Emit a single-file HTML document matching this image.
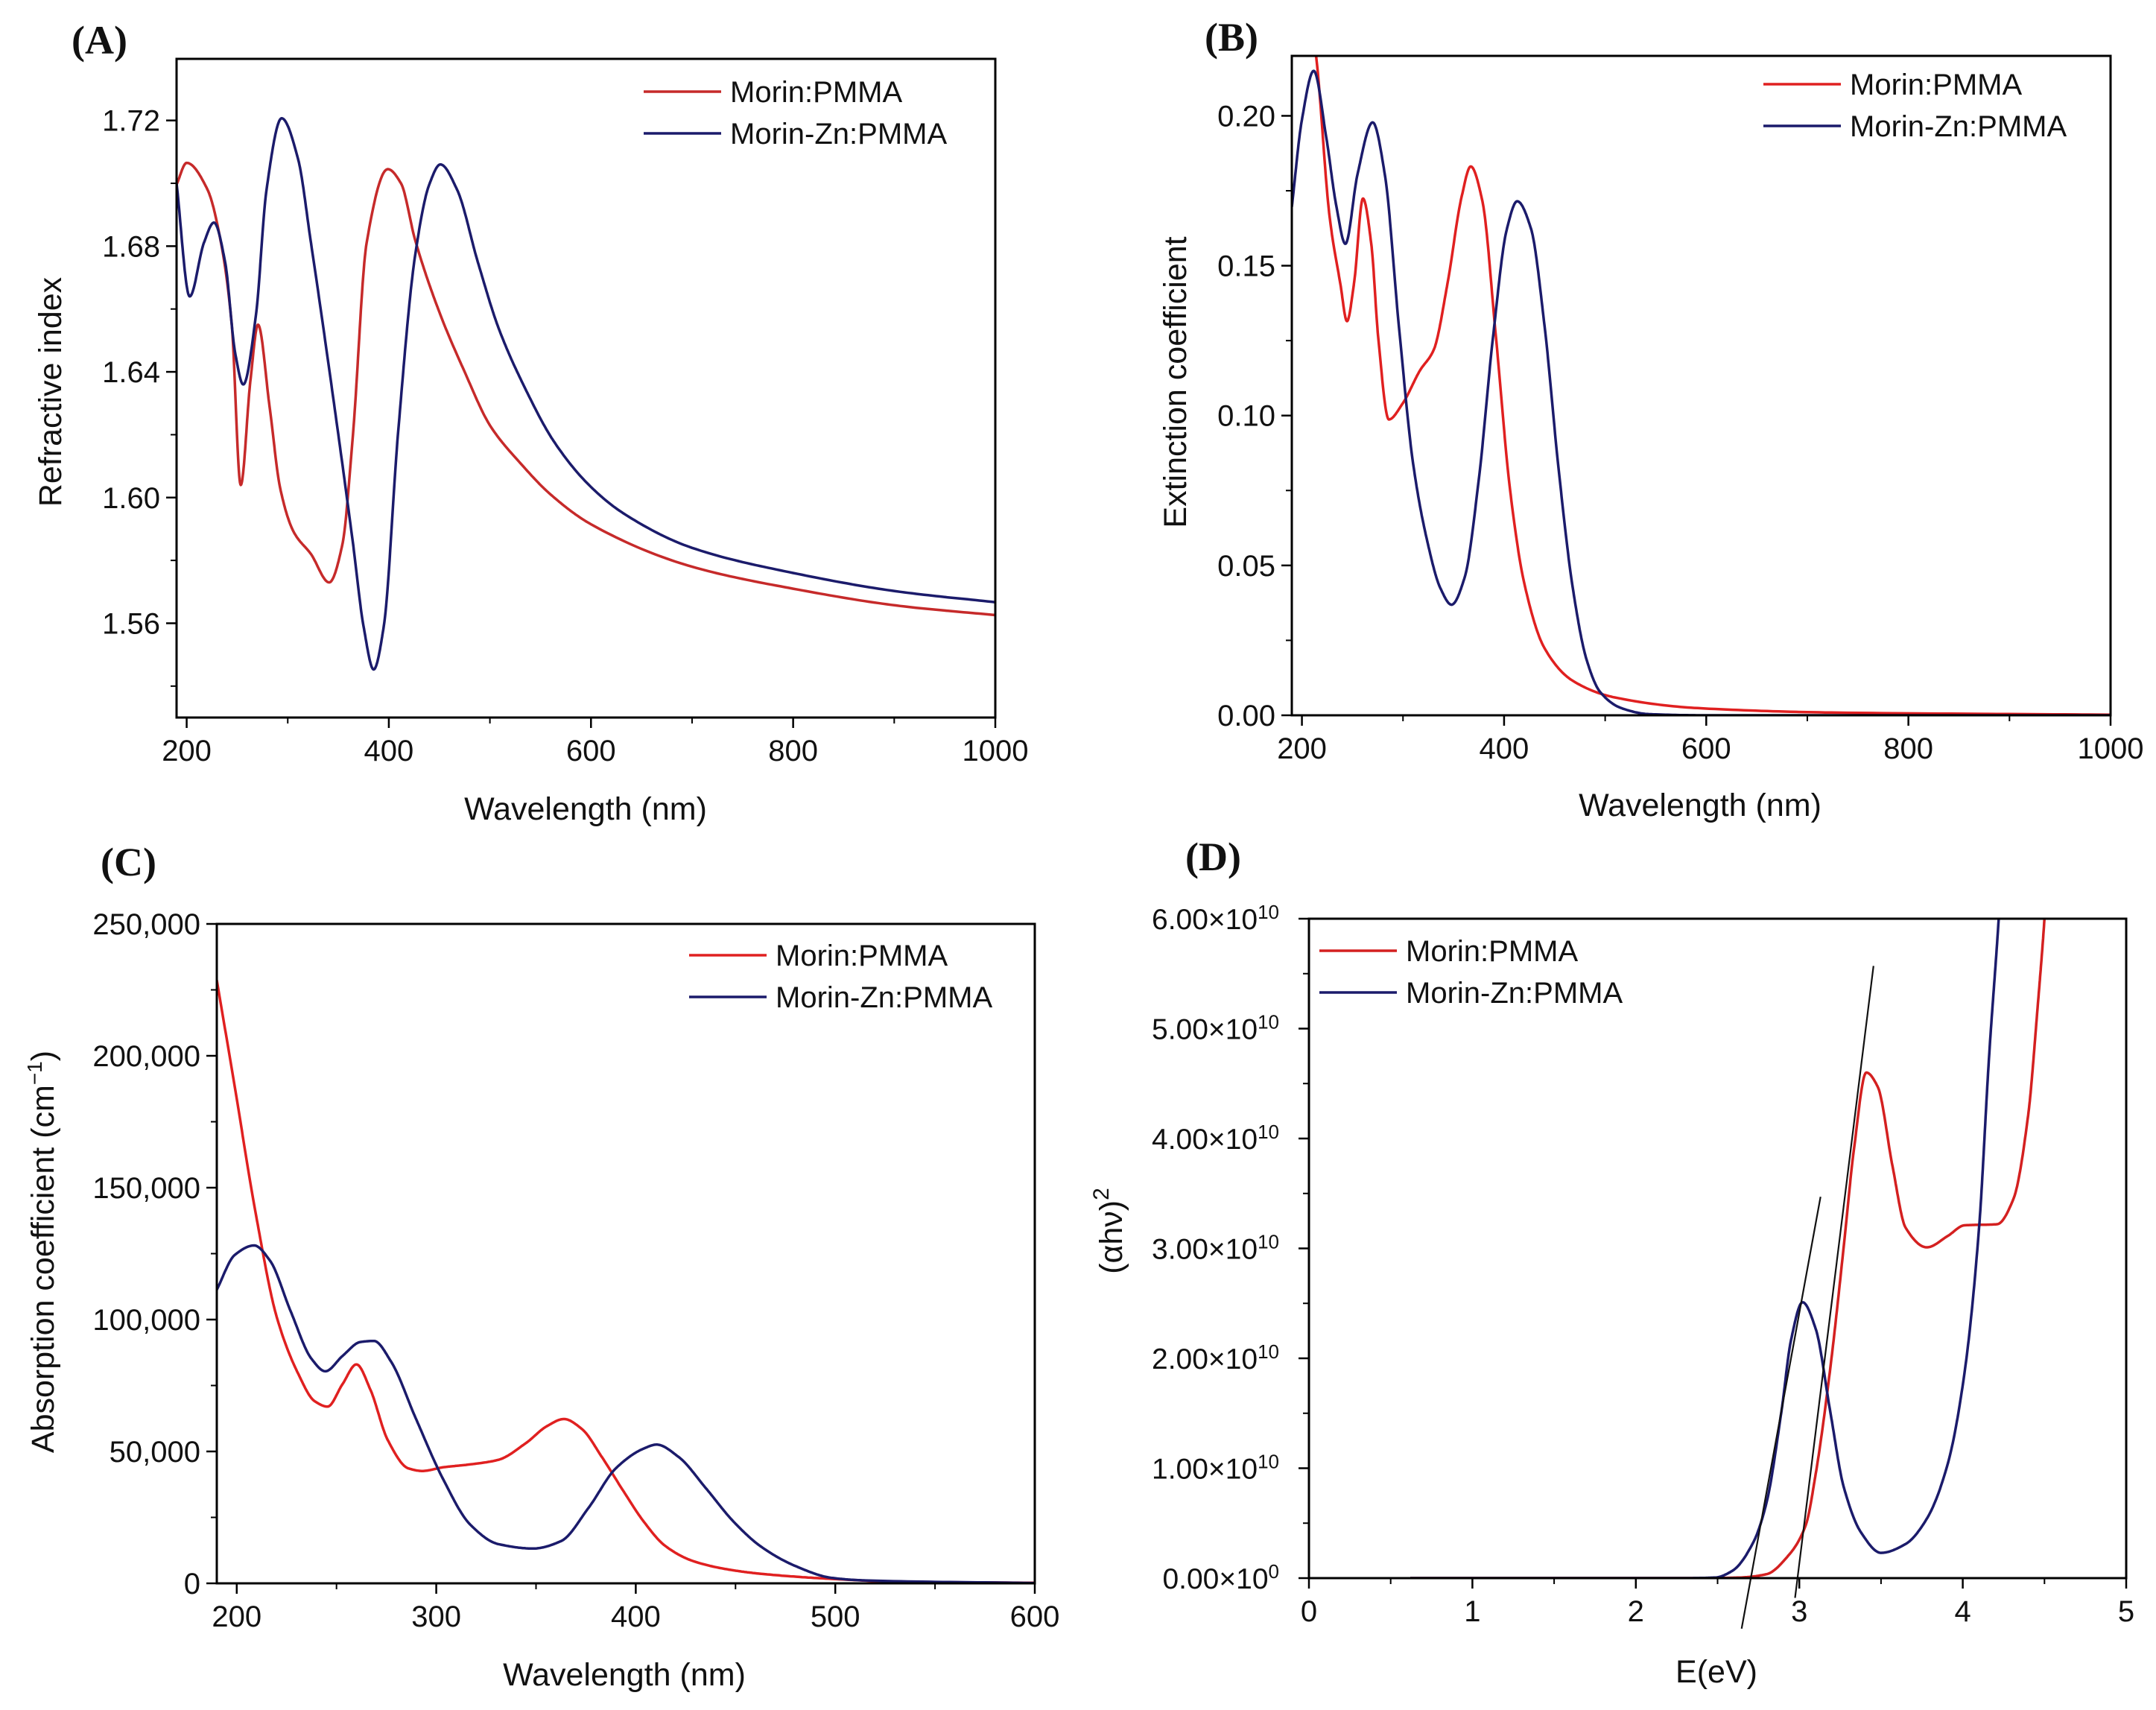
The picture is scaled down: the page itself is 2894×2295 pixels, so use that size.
<!DOCTYPE html>
<html><head><meta charset="utf-8"><style>
html,body{margin:0;padding:0;background:#fff;}
svg{display:block;font-family:"Liberation Sans",Arial,sans-serif;}
</style></head><body>
<svg id="fig" width="2894" height="2295" viewBox="0 0 2894 2295" xmlns="http://www.w3.org/2000/svg"></svg>
<script>
// ---------- Panel A: refractive index ----------
const aRedX=[190,200,220.6,234,244.6,253.5,263,270.6,282,292.5,306,323,341,354,364.5,378,399,412,426,450,475,500,530,560,600,700,800,906,1000];
const aRedY=[1.6996,1.7065,1.698,1.681,1.655,1.604,1.637,1.655,1.629,1.603,1.589,1.582,1.573,1.585,1.620,1.681,1.7045,1.700,1.682,1.659,1.640,1.623,1.611,1.601,1.5915,1.578,1.571,1.5655,1.5626];
const aBlueX=[190,203,217,227,238,248,256,268.5,279,294,310,323,344,364.5,375,385,395,409,426,440,451,467.5,488,508.5,536,563,598,632,700,800,906,1000];
const aBlueY=[1.700,1.664,1.681,1.6875,1.675,1.646,1.636,1.658,1.698,1.7207,1.708,1.681,1.634,1.5855,1.559,1.5453,1.559,1.620,1.677,1.6996,1.706,1.698,1.675,1.654,1.634,1.618,1.604,1.595,1.584,1.576,1.570,1.5667];
const aXTicks=[200,400,600,800,1000];
const aYTicks=[1.56,1.60,1.64,1.68,1.72];
// ---------- Panel B: extinction coefficient ----------
const bRedX=[205,214,227.5,238,244.6,251.5,260.4,268.7,275.5,286,299.6,316.7,330.5,344,358,367,378.5,392,406,420,440,468,509,591.5,729,1000];
const bRedY=[0.24,0.22,0.166,0.144,0.1315,0.144,0.1724,0.157,0.126,0.0987,0.104,0.115,0.122,0.144,0.173,0.1831,0.1716,0.126,0.075,0.044,0.0224,0.0115,0.006,0.0024,0.0009,0.0002];
const bBlueX=[190,200,211.7,224,234,243,255,270,282,296,310,323.6,337,348,361,375,389,402.6,413,426.6,440,454,468,481.5,495,516,543,600,1000];
const bBlueY=[0.1696,0.1987,0.215,0.193,0.170,0.1573,0.1805,0.1978,0.1805,0.1296,0.084,0.0587,0.0424,0.0369,0.046,0.0787,0.126,0.162,0.1715,0.1624,0.130,0.082,0.0424,0.0187,0.0078,0.0024,0.0004,0,0];
const bXTicks=[200,400,600,800,1000];
const bYTicks=[0,0.05,0.10,0.15,0.20];
const bYLabels=["0.00","0.05","0.10","0.15","0.20"];
// ---------- Panel C: absorption coefficient ----------
const cRedX=[190,199,209.7,220,230.6,239,245.5,253,260,267,275.7,286,293,303.5,317,331,345,355.5,364,373,383,393.7,404,414.6,428.5,446,463,498,532.6,600];
const cRedY=[228700,188300,139400,101100,79800,69100,67000,75500,83000,73400,54300,43600,42600,44000,45100,46800,53200,59600,62300,58500,47900,35100,23400,14300,8500,5300,3600,1700,600,200];
const cBlueX=[190,199,208.7,216.7,227,237.5,244.4,253,262,268.75,277.4,289.6,303.5,317,331,348.6,362.5,376.4,390,404,410.4,421.5,435,449,463,480.5,498,515,600];
const cBlueY=[111300,124500,128100,122300,103200,85100,80400,86200,91500,91900,84000,62800,39400,22300,14900,13200,16000,28700,43600,51100,52600,47900,36200,23400,13800,6400,2100,1100,100];
const cXTicks=[200,300,400,500,600];
const cYTicks=[0,50000,100000,150000,200000,250000];
const cYLabels=["0","50,000","100,000","150,000","200,000","250,000"];
// ---------- Panel D: Tauc plot (units of 1e10) ----------
const dRedX=[0.62,1.5,2.4,2.63,2.80,2.93,3.04,3.10,3.19,3.27,3.335,3.41,3.48,3.57,3.65,3.78,3.91,4.01,4.21,4.31,4.40,4.46,4.50,4.52];
const dRedY=[0,0,0,0.005,0.036,0.2,0.485,0.945,1.915,2.99,3.91,4.60,4.47,3.75,3.19,3.01,3.115,3.21,3.22,3.45,4.21,5.23,6.0,6.5];
const dBlueX=[0.62,1.5,2.3,2.485,2.59,2.72,2.80,2.89,2.95,3.02,3.10,3.19,3.27,3.38,3.50,3.65,3.78,3.91,4.01,4.10,4.16,4.22,4.24];
const dBlueY=[0,0,0,0.005,0.066,0.33,0.69,1.51,2.17,2.51,2.27,1.51,0.84,0.41,0.23,0.31,0.54,1.05,1.86,3.19,4.72,6.0,6.5];
const dFit1X=[2.647,3.13], dFit1Y=[-0.46,3.47];
const dFit2X=[2.974,3.454], dFit2Y=[-0.18,5.57];
const dXTicks=[0,1,2,3,4,5];
const dYTicks=[0,1,2,3,4,5,6];
const dYMant=["0.00","1.00","2.00","3.00","4.00","5.00","6.00"];
const dYExp=["0","10","10","10","10","10","10"];

const NS="http://www.w3.org/2000/svg";
const svg=document.getElementById('fig');
function mk(tag,attrs,parent){const e=document.createElementNS(NS,tag);for(const k in attrs)e.setAttribute(k,attrs[k]);(parent||svg).appendChild(e);return e;}
// monotone cubic (Fritsch-Carlson) interpolation sampled densely
function monotone(xs,ys){
  const n=xs.length,d=[],m=new Array(n);
  for(let i=0;i<n-1;i++)d.push((ys[i+1]-ys[i])/(xs[i+1]-xs[i]));
  m[0]=d[0];m[n-1]=d[n-2];
  for(let i=1;i<n-1;i++){
    if(d[i-1]*d[i]<=0)m[i]=0;
    else{const h0=xs[i]-xs[i-1],h1=xs[i+1]-xs[i];const w1=2*h1+h0,w2=h1+2*h0;m[i]=(w1+w2)/(w1/d[i-1]+w2/d[i]);}
  }
  const out=[];
  for(let i=0;i<n-1;i++){
    const h=xs[i+1]-xs[i],N=24;
    for(let k=0;k<N;k++){
      const t=k/N,t2=t*t,t3=t2*t;
      const y=(2*t3-3*t2+1)*ys[i]+(t3-2*t2+t)*h*m[i]+(-2*t3+3*t2)*ys[i+1]+(t3-t2)*h*m[i+1];
      out.push([xs[i]+t*h,y]);
    }
  }
  out.push([xs[n-1],ys[n-1]]);
  return out;
}
function panel(cfg){
  const g=mk('g',{});
  
  
  const {L,R,T,B,x0,x1,y0,y1}=cfg;
  const sx=v=>L+(v-x0)/(x1-x0)*(R-L);
  const sy=v=>B-(v-y0)/(y1-y0)*(B-T);
  const clipId=cfg.id+'-clip';
  const cp=mk('clipPath',{id:clipId},g);mk('rect',{x:L,y:T,width:R-L,height:B-T},cp);
  cfg.series.forEach(s=>{
    const pts=monotone(s.x,s.y).map(p=>[sx(p[0]),sy(p[1])]);
    const d="M"+pts.map(p=>p[0].toFixed(1)+","+p[1].toFixed(1)).join(" L");
    const p=mk('path',{d:d,fill:'none',stroke:s.color,'stroke-width':3.5,'stroke-linejoin':'round','clip-path':'url(#'+clipId+')'},g);
    
    
  });
  (cfg.fits||[]).forEach((f,i)=>{
    const l=mk('line',{x1:sx(f.x[0]),y1:sy(f.y[0]),x2:sx(f.x[1]),y2:sy(f.y[1]),stroke:'#111','stroke-width':2.2},g);
    
    
  });
  const fr=mk('rect',{x:L,y:T,width:R-L,height:B-T,fill:'none',stroke:'#000','stroke-width':3},g);
  
  
  cfg.xt.forEach((v,i)=>{
    const X=sx(v);
    mk('line',{x1:X,y1:B,x2:X,y2:B+14,stroke:'#000','stroke-width':2.5},g);
    const t=mk('text',{x:X,y:B+58,'font-size':40,'text-anchor':'middle',fill:'#111'},g);
    t.textContent=String(v);
    
    
  });
  cfg.xm.forEach(v=>{const X=sx(v);mk('line',{x1:X,y1:B,x2:X,y2:B+8,stroke:'#000','stroke-width':2},g);});
  cfg.yt.forEach((v,i)=>{
    const Y=sy(v);
    mk('line',{x1:L-14,y1:Y,x2:L,y2:Y,stroke:'#000','stroke-width':2.5},g);
    const t=mk('text',{x:L-22,y:Y+14,'font-size':cfg.yfs||40,'text-anchor':'end',fill:'#111'},g);
    if(cfg.yexp){
      const a=mk('tspan',{},t);a.textContent=cfg.yl[i]+"\u00d710";
      const b=mk('tspan',{dy:-14,'font-size':26},t);b.textContent=cfg.yexp[i];
      t.setAttribute('x',L-40);
    } else t.textContent=cfg.yl?cfg.yl[i]:v.toFixed(2);
    
    
  });
  cfg.ym.forEach(v=>{const Y=sy(v);mk('line',{x1:L-8,y1:Y,x2:L,y2:Y,stroke:'#000','stroke-width':2},g);});
  cfg.series.forEach((s,i)=>{
    const y=cfg.leg[1]+i*56;
    const l=mk('line',{x1:cfg.leg[0],y1:y,x2:cfg.leg[0]+104,y2:y,stroke:s.color,'stroke-width':3.5},g);
    
    
    const t=mk('text',{x:cfg.leg[0]+116,y:y+14,'font-size':40,fill:'#111'},g);
    t.textContent=s.label;
    
    
  });
  const xt=mk('text',{x:cfg.xtp[0],y:cfg.xtp[1],'font-size':43,'text-anchor':'middle',fill:'#111'},g);
  xt.textContent=cfg.xtitle;
  
  
  const yt=mk('text',{x:0,y:0,'font-size':43,'text-anchor':'middle',fill:'#111',transform:'translate('+cfg.ytp[0]+','+cfg.ytp[1]+') rotate(-90)'},g);
  if(cfg.ytitleParts){cfg.ytitleParts.forEach(p=>{const s=mk('tspan',p.a||{},yt);s.textContent=p.t;});}
  else yt.textContent=cfg.ytitle;
  
  
  const pl=mk('text',{x:cfg.lab[0],y:cfg.lab[1],'font-size':54,'font-weight':'bold','font-family':'"Liberation Serif",serif',fill:'#111'},g);
  pl.textContent=cfg.label;
  
  
}
const BLUE='#1b1b6b';
panel({id:'panel-a',L:237,R:1336,T:79,B:963,x0:190,x1:1000,y0:1.530,y1:1.7396,
  xt:aXTicks,xm:[300,500,700,900],yt:aYTicks,ym:[1.54,1.58,1.62,1.66,1.70],
  series:[{name:'morin-pmma-line',label:'Morin:PMMA',color:'#c62a2a',x:aRedX,y:aRedY},{name:'morin-zn-pmma-line',label:'Morin-Zn:PMMA',color:BLUE,x:aBlueX,y:aBlueY}],
  leg:[864,123],xtitle:'Wavelength (nm)',xtp:[786,1100],ytitle:'Refractive index',ytp:[82,526],label:'(A)',lab:[96,72]});
panel({id:'panel-b',L:1734,R:2833,T:75,B:960,x0:190,x1:1000,y0:0,y1:0.22,
  xt:bXTicks,xm:[300,500,700,900],yt:bYTicks,yl:bYLabels,ym:[0.025,0.075,0.125,0.175],
  series:[{name:'morin-pmma-line',label:'Morin:PMMA',color:'#e02020',x:bRedX,y:bRedY},{name:'morin-zn-pmma-line',label:'Morin-Zn:PMMA',color:BLUE,x:bBlueX,y:bBlueY}],
  leg:[2367,113],xtitle:'Wavelength (nm)',xtp:[2282,1095],ytitle:'Extinction coefficient',ytp:[1592,513],label:'(B)',lab:[1617,68]});
panel({id:'panel-c',L:291,R:1389,T:1240,B:2125,x0:190,x1:600,y0:0,y1:250000,
  xt:cXTicks,xm:[250,350,450,550],yt:cYTicks,yl:cYLabels,ym:[25000,75000,125000,175000,225000],
  series:[{name:'morin-pmma-line',label:'Morin:PMMA',color:'#e02020',x:cRedX,y:cRedY},{name:'morin-zn-pmma-line',label:'Morin-Zn:PMMA',color:BLUE,x:cBlueX,y:cBlueY}],
  leg:[925,1282],xtitle:'Wavelength (nm)',xtp:[838,2262],
  ytitleParts:[{t:'Absorption coefficient (cm'},{t:'\u22121',a:{dy:-16,'font-size':28}},{t:')',a:{dy:16}}],ytp:[72,1680],label:'(C)',lab:[135,1175]});
panel({id:'panel-d',L:1757,R:2854,T:1233,B:2118,x0:0,x1:5,y0:0,y1:6,
  xt:dXTicks,xm:[0.5,1.5,2.5,3.5,4.5],yt:dYTicks,yl:dYMant,yexp:dYExp,yfs:39,ym:[0.5,1.5,2.5,3.5,4.5,5.5],
  series:[{name:'morin-pmma-line',label:'Morin:PMMA',color:'#d42020',x:dRedX,y:dRedY},{name:'morin-zn-pmma-line',label:'Morin-Zn:PMMA',color:BLUE,x:dBlueX,y:dBlueY}],
  fits:[{x:dFit1X,y:dFit1Y},{x:dFit2X,y:dFit2Y}],
  leg:[1771,1276],xtitle:'E(eV)',xtp:[2304,2258],
  ytitleParts:[{t:'(\u03b1h\u03bd)'},{t:'2',a:{dy:-18,'font-size':30}}],ytp:[1506,1652],label:'(D)',lab:[1591,1168]});
</script>
</body></html>
